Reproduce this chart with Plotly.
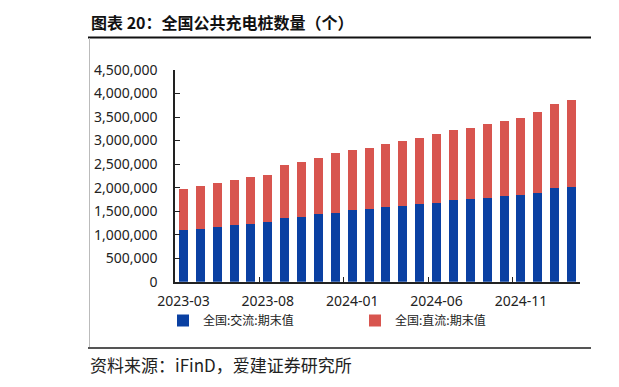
import plotly.graph_objects as go

months = ["2023-03","2023-04","2023-05","2023-06","2023-07","2023-08","2023-09","2023-10",
          "2023-11","2023-12","2024-01","2024-02","2024-03","2024-04","2024-05","2024-06",
          "2024-07","2024-08","2024-09","2024-10","2024-11","2024-12","2025-01","2025-02"]
ac_piles = [1091000,1120000,1162000,1198000,1226000,1261000,1353000,1382000,
            1431000,1467000,1524000,1538000,1580000,1616000,1651000,1680000,
            1736000,1750000,1779000,1814000,1843000,1892000,1998000,2020000]
total_piles = [1970000,2041000,2098000,2161000,2232000,2275000,2480000,2537000,
               2636000,2735000,2792000,2842000,2920000,2991000,3061000,3146000,
               3224000,3274000,3345000,3409000,3472000,3607000,3777000,3855000]
dc_piles = [t - a for t, a in zip(total_piles, ac_piles)]
tick_labels = ["2023-03","2023-08","2024-01","2024-06","2024-11"]
y_ticks = [0,500000,1000000,1500000,2000000,2500000,3000000,3500000,4000000,4500000]

OFF = 8  # page body margin
W, H = 619 - OFF, 387 - OFF
def px(x): return (x - OFF) / W
def py(y): return 1 - (y - OFF) / H

xs = list(range(len(months)))
BLUE = "#0A40A2"
RED = "#D8554F"
fig = go.Figure()
fig.add_trace(go.Bar(x=xs, y=ac_piles, name="全国:交流:期末值", marker_color=BLUE,
                     marker_line_width=0))
fig.add_trace(go.Bar(x=xs, y=dc_piles, name="全国:直流:期末值", marker_color=RED,
                     marker_line_width=0))
# invisible trace to carry the secondary x axis for tick marks
fig.add_trace(go.Scatter(x=[-0.5, 23.5], y=[0, 0], xaxis="x2", mode="lines",
                         line=dict(width=0), showlegend=False, hoverinfo="skip"))

# page frame rules (header rule, left border, footer rule) drawn on a full-page helper axis
def frame(segs, color, width):
    fx, fy = [], []
    for (x0, y0, x1, y1) in segs:
        fx += [x0 - OFF, x1 - OFF, None]
        fy += [y0 - OFF, y1 - OFF, None]
    fig.add_trace(go.Scatter(x=fx, y=fy, xaxis="x3", yaxis="y3", mode="lines",
                             line=dict(color=color, width=width), showlegend=False,
                             hoverinfo="skip", cliponaxis=False))

frame([(88, 37.5, 591, 37.5), (614, 37.5, 619, 37.5)], "#111111", 2)
frame([(88, 348, 591, 348), (614, 348, 619, 348)], "#555555", 2)
frame([(89.5, 38, 89.5, 347)], "#BBBBBB", 1)

tick_idx = [months.index(t) for t in tick_labels]
fig.update_layout(
    width=W, height=H, margin=dict(l=0, r=0, t=0, b=0, autoexpand=False),
    paper_bgcolor="white", plot_bgcolor="rgba(0,0,0,0)",
    barmode="stack", bargap=0.46,
    font=dict(family="Noto Sans, Noto Sans CJK SC", color="#222", size=14),
    xaxis=dict(domain=[px(175), px(580)], range=[-0.5, 23.5], automargin=False,
               tickmode="array", tickvals=tick_idx, ticktext=tick_labels,
               ticks="", showline=True, linecolor="#222", linewidth=1.5,
               ticklabelstandoff=6,
               showgrid=False, zeroline=False, tickfont=dict(size=14, color="#222")),
    xaxis2=dict(domain=[px(175), px(580)], range=[-0.5, 23.5], overlaying="x",
                anchor="y", side="bottom", automargin=False,
                tickmode="array", tickvals=[i - 0.5 for i in tick_idx[1:]],
                ticks="inside", ticklen=5, tickcolor="#222", tickwidth=1.2,
                showticklabels=False, showline=False, showgrid=False, zeroline=False),
    yaxis=dict(domain=[py(281.7), py(70)], range=[0, 4500000], automargin=False,
               tickmode="array", tickvals=y_ticks, tickformat=",d",
               ticks="inside", ticklen=5, tickcolor="#222", tickwidth=1.2,
               ticklabelstandoff=13,
               showline=True, linecolor="#222", linewidth=1.5,
               showgrid=False, zeroline=False, tickfont=dict(size=14, color="#222")),
    xaxis3=dict(domain=[0, 1], range=[0, W], anchor="y3", visible=False,
                automargin=False, fixedrange=True),
    yaxis3=dict(domain=[0, 1], range=[H, 0], anchor="x3", visible=False,
                automargin=False, fixedrange=True),
    legend=dict(orientation="h", x=px(163), y=py(306), xanchor="left", yanchor="top",
                entrywidth=147, entrywidthmode="pixels", traceorder="normal",
                font=dict(family="Noto Sans CJK SC", size=12, color="#222"),
                itemwidth=30, bgcolor="rgba(0,0,0,0)"),
    showlegend=True,
)

fig.add_annotation(text="<b>图表 20：全国公共充电桩数量（个）</b>", xref="paper", yref="paper",
                   x=px(89), y=py(22), xanchor="left", yanchor="middle", showarrow=False,
                   font=dict(family="Noto Sans CJK SC", size=16, color="#111"))
fig.add_annotation(text="资料来源：iFinD，爱建证券研究所", xref="paper", yref="paper",
                   x=px(88), y=py(364), xanchor="left", yanchor="middle", showarrow=False,
                   font=dict(family="Noto Sans CJK SC", size=17, color="#222"))
# slivers of the neighbouring figure at the right edge
fig.add_annotation(text="<b>图表</b>", xref="paper", yref="paper",
                   x=px(613), y=py(22), xanchor="left", yanchor="middle", showarrow=False,
                   font=dict(family="Noto Sans CJK SC", size=16, color="#111"))
fig.add_annotation(text="资料", xref="paper", yref="paper",
                   x=px(612), y=py(364), xanchor="left", yanchor="middle", showarrow=False,
                   font=dict(family="Noto Sans CJK SC", size=17, color="#222"))

fig.write_html("out.html")
